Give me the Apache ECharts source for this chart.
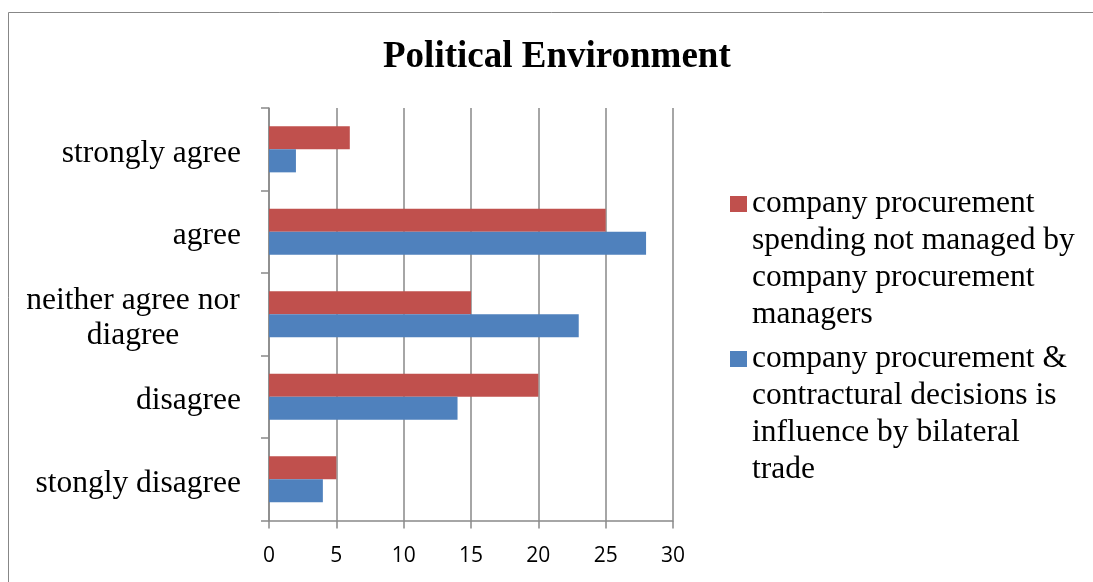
<!DOCTYPE html>
<html>
<head>
<meta charset="utf-8">
<script src="https://cdn.jsdelivr.net/npm/echarts@6/dist/echarts.min.js"></script>
<style>
html,body{margin:0;padding:0;background:#fff;}
#chart{width:1093px;height:582px;}
</style>
</head>
<body>
<div id="chart"></div>
<script>
const categories = ['stongly disagree', 'disagree', 'neither agree nor diagree', 'agree', 'strongly agree'];
const seriesNames = [
  'company procurement\nspending not managed by\ncompany procurement\nmanagers',
  'company procurement &\ncontractural decisions is\ninfluence by bilateral\ntrade'
];
const redValues = [5, 20, 15, 25, 6];
const blueValues = [4, 14, 23, 28, 2];
const xTicks = { min: 0, max: 30, interval: 5 };

const chart = echarts.init(document.getElementById('chart'));
const serif = '"Liberation Serif", "Times New Roman", serif';
const gray = '#898989';

const legendCommon = {
  orient: 'vertical', left: 730, padding: 0,
  itemWidth: 17, itemHeight: 16, icon: 'rect',
  formatter: function (name) { return '\n\n\n' + name; },
  textStyle: { fontFamily: serif, fontSize: 31.5, color: '#000', lineHeight: 37 }
};

chart.setOption({
  animation: false,
  backgroundColor: '#fff',
  title: {
    text: 'Political Environment',
    left: 383, top: 39, padding: 0,
    textStyle: { fontFamily: serif, fontWeight: 'bold', fontSize: 37, color: '#000' }
  },
  graphic: [{
    type: 'polyline', shape: { points: [[8.5, 700], [8.5, 12.5], [1200, 12.5]] },
    style: { fill: 'none', stroke: '#878787', lineWidth: 1 }, z: 100, silent: true
  }],
  legend: [
    Object.assign({ data: [seriesNames[0]], top: 74.5 }, legendCommon),
    Object.assign({ data: [seriesNames[1]], top: 229.5 }, legendCommon)
  ],
  grid: { left: 269, right: 420, top: 108, bottom: 61.5, containLabel: false },
  xAxis: {
    type: 'value', min: xTicks.min, max: xTicks.max, interval: xTicks.interval,
    axisLine: { show: true, lineStyle: { color: gray, width: 1.5 } },
    axisTick: { show: true, length: 8, lineStyle: { color: gray, width: 1.5 } },
    splitLine: { show: true, lineStyle: { color: gray, width: 1.5 } },
    axisLabel: { margin: 25, fontFamily: '"Open Sans", sans-serif', fontSize: 21, color: '#000' }
  },
  yAxis: {
    type: 'category', data: categories,
    axisLine: { show: true, lineStyle: { color: gray, width: 1.5 } },
    axisTick: { show: true, length: 8, alignWithLabel: false, lineStyle: { color: gray, width: 1.5 } },
    axisLabel: {
      margin: 28, fontFamily: serif, fontSize: 31.5, color: '#000', lineHeight: 35,
      formatter: function (v) {
        if (v === 'neither agree nor diagree') return '{e| }\n{w|neither agree nor}\n{w|diagree}';
        return '{s|' + v + '}';
      },
      rich: {
        s: { padding: [8, 0, 0, 0], fontFamily: serif, fontSize: 31.5, lineHeight: 35, color: '#000' },
        e: { fontSize: 1, lineHeight: 8, height: 8 },
        w: { width: 216, align: 'center', fontFamily: serif, fontSize: 31.5, lineHeight: 35, color: '#000' }
      }
    }
  },
  series: [
    { name: seriesNames[0], type: 'bar', data: redValues, barGap: '0%', barCategoryGap: '44%',
      itemStyle: { color: '#C0504D' } },
    { name: seriesNames[1], type: 'bar', data: blueValues, barGap: '0%', barCategoryGap: '44%',
      itemStyle: { color: '#4F81BD' } }
  ]
});
</script>
</body>
</html>
